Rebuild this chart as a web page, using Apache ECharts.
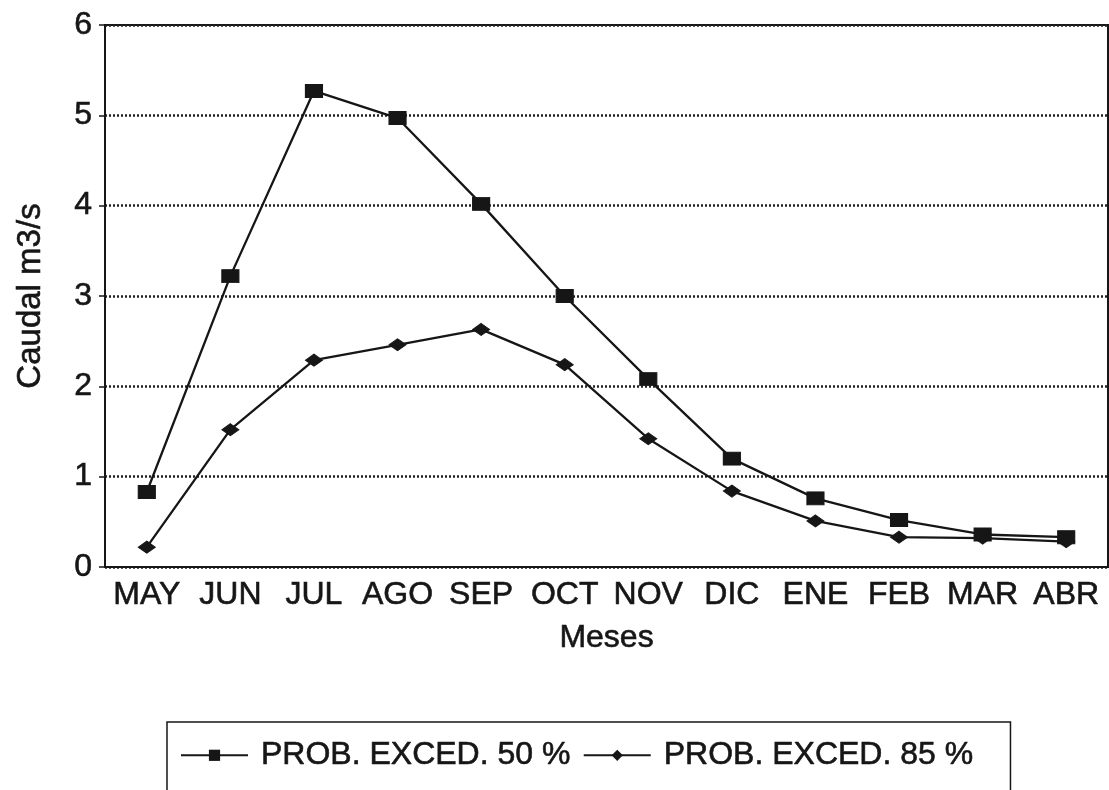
<!DOCTYPE html>
<html>
<head>
<meta charset="utf-8">
<title>Caudal mensual</title>
<script src="https://cdn.jsdelivr.net/npm/echarts@6/dist/echarts.min.js"></script>
<style>
  html, body { margin: 0; padding: 0; background: #fff; }
  #chart { width: 1109px; height: 790px; }
</style>
</head>
<body>
<div id="chart"></div>
<script>
// Months of the hydrological year
const months = ['MAY', 'JUN', 'JUL', 'AGO', 'SEP', 'OCT', 'NOV', 'DIC', 'ENE', 'FEB', 'MAR', 'ABR'];
// Flow (m3/s) for exceedance probability 50 %
const exced50 = [0.83, 3.22, 5.27, 4.97, 4.02, 3.0, 2.08, 1.2, 0.76, 0.52, 0.36, 0.33];
// Flow (m3/s) for exceedance probability 85 %
const exced85 = [0.22, 1.52, 2.29, 2.46, 2.63, 2.24, 1.42, 0.84, 0.51, 0.33, 0.32, 0.28];
// Value axis ticks
const yTicks = [0, 1, 2, 3, 4, 5, 6];

const FONT = "'Liberation Sans', Arial, Helvetica, sans-serif";
const INK = '#161616';
// slight stroke to give the lettering a heavier, printed look
const heavy = { textBorderColor: INK, textBorderWidth: 0.6 };

const chart = echarts.init(document.getElementById('chart'), null, { renderer: 'canvas' });

chart.setOption({
  backgroundColor: '#ffffff',
  animation: false,
  grid: {
    left: 105, top: 25, right: 1, bottom: 223,
    show: true, borderColor: INK, borderWidth: 2, backgroundColor: 'transparent'
  },
  legend: {
    left: 167, top: 722,
    padding: [17, 37, 45, 13],
    itemGap: 12,
    itemWidth: 67, itemHeight: 14,
    borderColor: INK, borderWidth: 1.5,
    textStyle: Object.assign({ fontFamily: FONT, fontSize: 32, color: INK, padding: [0, 0, 0, 8] }, heavy),
    data: ['PROB. EXCED. 50 %', 'PROB. EXCED. 85 %']
  },
  xAxis: {
    type: 'category',
    data: months,
    boundaryGap: true,
    name: 'Meses',
    nameLocation: 'middle',
    nameGap: 55,
    nameTextStyle: Object.assign({ fontFamily: FONT, fontSize: 32, color: INK }, heavy),
    axisLine: { lineStyle: { color: INK, width: 2 } },
    axisTick: { alignWithLabel: true, length: 7, lineStyle: { color: INK, width: 1.5 } },
    axisLabel: Object.assign({ interval: 0, margin: 12, fontFamily: FONT, fontSize: 32, color: INK }, heavy),
    splitLine: { show: false }
  },
  yAxis: {
    type: 'value',
    min: yTicks[0],
    max: yTicks[yTicks.length - 1],
    interval: 1,
    name: 'Caudal m3/s',
    nameLocation: 'middle',
    nameGap: 58,
    nameTextStyle: Object.assign({ fontFamily: FONT, fontSize: 33, color: INK }, heavy),
    axisLine: { show: true, lineStyle: { color: INK, width: 2 } },
    axisTick: { show: true, length: 6, lineStyle: { color: INK, width: 1.5 } },
    axisLabel: Object.assign({ margin: 13, fontFamily: FONT, fontSize: 32, color: INK }, heavy),
    splitLine: { show: true, lineStyle: { color: '#222', width: 2.5, type: [2, 2] } }
  },
  series: [
    {
      name: 'PROB. EXCED. 50 %',
      type: 'line',
      data: exced50,
      symbol: 'rect',
      symbolSize: [17, 13],
      showAllSymbol: true,
      lineStyle: { color: INK, width: 2.3 },
      itemStyle: { color: INK, borderColor: INK }
    },
    {
      name: 'PROB. EXCED. 85 %',
      type: 'line',
      data: exced85,
      symbol: 'diamond',
      symbolSize: [17, 12],
      showAllSymbol: true,
      lineStyle: { color: INK, width: 2.3 },
      itemStyle: { color: INK, borderColor: INK }
    }
  ]
});
</script>
</body>
</html>
